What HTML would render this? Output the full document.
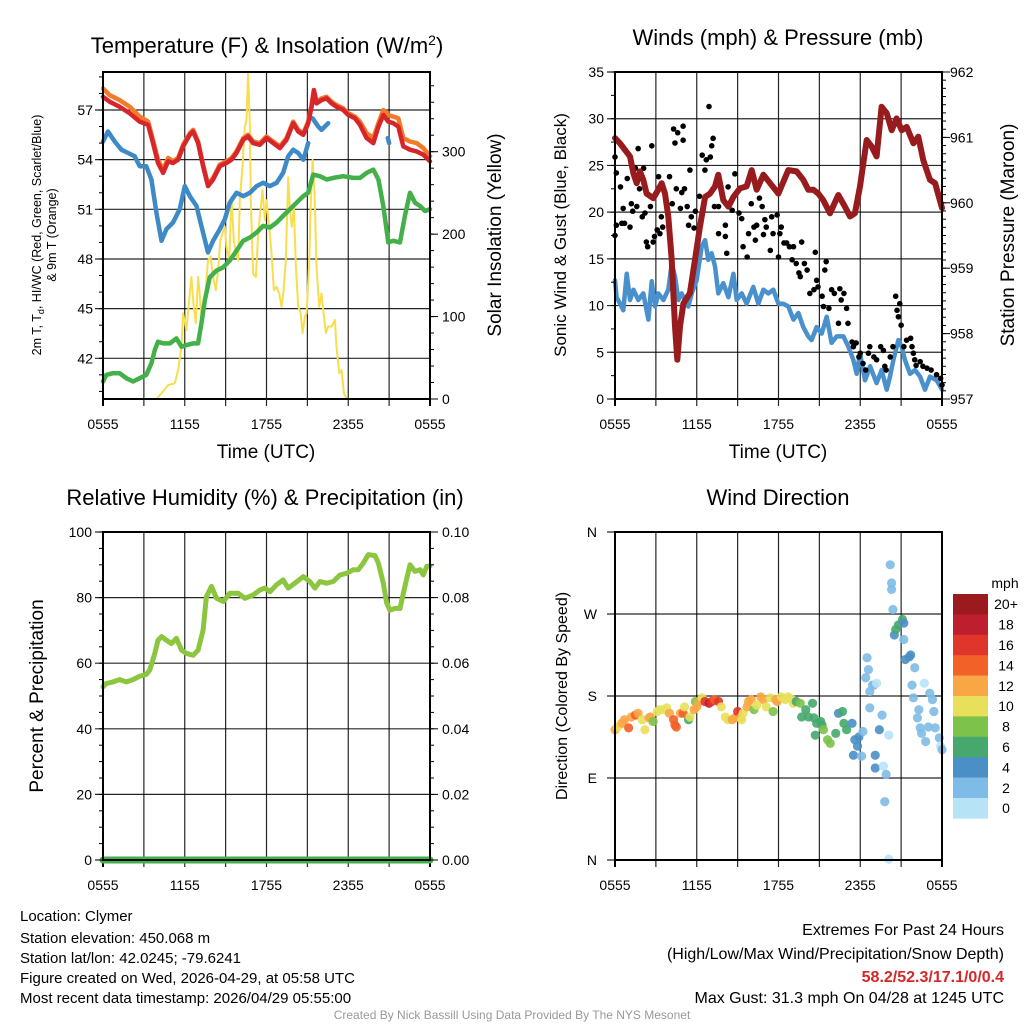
<!DOCTYPE html>
<html><head><meta charset="utf-8"><style>
html,body{margin:0;padding:0;background:#fff;}
svg{display:block;font-family:"Liberation Sans",Arial,sans-serif;}
</style></head><body>
<svg id="chart" width="1024" height="1024" viewBox="0 0 1024 1024" xmlns="http://www.w3.org/2000/svg">
<rect width="1024" height="1024" fill="#fff"/>
<text x="267" y="53" font-size="22" text-anchor="middle">Temperature (F) &amp; Insolation (W/m<tspan dy="-8" font-size="14">2</tspan><tspan dy="8">)</tspan></text>
<text x="778" y="45" font-size="22" text-anchor="middle">Winds (mph) &amp; Pressure (mb)</text>
<text x="265" y="505" font-size="22" text-anchor="middle">Relative Humidity (%) &amp; Precipitation (in)</text>
<text x="778" y="505" font-size="22" text-anchor="middle">Wind Direction</text>
<g font-size="19" text-anchor="middle">
<text x="266" y="458">Time (UTC)</text>
<text x="778" y="458">Time (UTC)</text>
</g>
<text transform="translate(41,235) rotate(-90)" font-size="12.5" text-anchor="middle">2m T, T<tspan dy="3" font-size="9">d</tspan><tspan dy="-3">, HI/WC (Red, Green, Scarlet/Blue)</tspan></text>
<text transform="translate(56,235) rotate(-90)" font-size="12.5" text-anchor="middle">&amp; 9m T (Orange)</text>
<text transform="translate(501,235) rotate(-90)" font-size="19" text-anchor="middle">Solar Insolation (Yellow)</text>
<text transform="translate(566,235) rotate(-90)" font-size="17" text-anchor="middle">Sonic Wind &amp; Gust (Blue, Black)</text>
<text transform="translate(1014,235) rotate(-90)" font-size="19" text-anchor="middle">Station Pressure (Maroon)</text>
<text transform="translate(43,696) rotate(-90)" font-size="19" text-anchor="middle">Percent &amp; Precipitation</text>
<text transform="translate(567,696) rotate(-90)" font-size="16" text-anchor="middle">Direction (Colored By Speed)</text>
<g font-size="15">
<text x="20" y="921">Location: Clymer</text>
<text x="20" y="943">Station elevation: 450.068 m</text>
<text x="20" y="963">Station lat/lon: 42.0245; -79.6241</text>
<text x="20" y="983">Figure created on Wed, 2026-04-29, at 05:58 UTC</text>
<text x="20" y="1003">Most recent data timestamp: 2026/04/29 05:55:00</text>
</g>
<g font-size="16" text-anchor="end">
<text x="1004" y="935">Extremes For Past 24 Hours</text>
<text x="1004" y="959">(High/Low/Max Wind/Precipitation/Snow Depth)</text>
<text x="1004" y="982" fill="#d62728" font-weight="bold">58.2/52.3/17.1/0/0.4</text>
<text x="1004" y="1003">Max Gust: 31.3 mph On 04/28 at 1245 UTC</text>
</g>
<text x="512" y="1019" font-size="12" fill="#999" text-anchor="middle">Created By Nick Bassill Using Data Provided By The NYS Mesonet</text>
</svg>
<script>
// ---- Temperature panel data (hours since 0555 UTC) ----
const redT=[0,0.49,1.22,1.96,2.69,3.31,3.67,4.04,4.41,4.78,5.14,5.51,5.88,6.37,6.61,6.98,7.35,7.71,8.08,8.57,9.06,9.43,9.8,10.29,10.65,11.02,11.51,12,12.49,12.98,13.47,13.96,14.33,14.7,15.06,15.31,15.48,15.67,16.04,16.41,16.78,17.14,17.63,18,18.49,18.86,19.35,19.84,20.21,20.57,20.94,21.31,21.67,22.04,22.53,23.02,23.51,24];
const redV=[57.8,57.5,57.2,56.8,56.3,56.1,55.0,53.8,53.2,53.9,53.8,54.0,54.8,55.5,55.7,55.0,53.6,52.4,52.8,53.6,53.8,54.0,54.4,55.2,55.4,55.0,54.9,55.3,55.0,54.7,55.2,56.2,55.7,55.5,56.2,57.2,58.2,57.4,57.6,57.7,57.4,57.2,57.0,56.7,56.5,56.1,55.3,55.0,56.0,56.7,56.3,56.2,56.0,54.8,54.6,54.5,54.3,53.9];
const orangeV=[58.3,57.9,57.6,57.2,56.6,56.3,55.2,54.0,53.4,54.1,53.9,54.1,54.9,55.6,55.8,55.1,53.7,52.5,52.9,53.7,53.9,54.1,54.5,55.3,55.5,55.1,55.0,55.4,55.1,54.8,55.3,56.3,55.8,55.6,56.3,57.3,58.2,57.5,57.7,57.8,57.5,57.3,57.1,56.8,56.6,56.3,55.6,55.3,56.2,57.0,56.7,56.6,56.5,55.3,55.1,55.0,54.7,54.2];
const blueT=[0,0.37,0.86,1.35,1.84,2.33,2.69,3.18,3.55,3.92,4.29,4.65,5.14,5.63,6,6.37,6.86,7.22,7.71,8.08,8.57,8.94,9.31,9.8,10.29,10.78,11.27,11.76,12.25,12.74,13.22,13.59,13.96,14.33,14.7,15.06,15.2,15.38,15.8,16.04,16.53,16.6,20.9,20.94,21.0];
const blueV=[55.1,55.7,55.1,54.6,54.4,54.2,53.6,53.6,52.8,50.8,49.1,49.8,50.2,51.0,52.4,51.8,51.2,50.0,48.4,49.1,49.8,50.4,51.4,52.0,51.8,52.0,52.4,52.6,52.4,52.6,53.2,54.2,54.6,54.4,54.0,55.0,null,56.5,56.0,55.8,56.2,null,55.3,55.2,55.0];
const greenT=[0,0.24,0.73,1.22,1.71,2.2,2.69,3.18,3.55,3.8,4.04,4.41,4.9,5.39,5.76,6.12,6.61,6.98,7.22,7.47,7.84,8.33,8.82,9.31,9.8,10.29,10.78,11.27,11.76,12.25,12.74,13.22,13.72,14.21,14.7,15.06,15.43,15.92,16.41,16.9,17.63,18.37,18.86,19.35,19.84,20.21,20.57,20.94,21.31,21.8,22.16,22.53,22.9,23.27,23.63,24];
const greenV=[40.6,41.0,41.1,41.1,40.8,40.6,40.8,41.0,41.7,42.5,43.0,42.9,42.9,43.2,42.7,42.8,42.9,42.9,44.1,45.5,46.9,47.3,47.5,47.9,48.5,49.1,49.3,49.6,50.0,49.9,50.2,50.6,51.0,51.4,51.8,52.0,53.1,53.0,52.8,52.9,53.0,52.9,52.9,53.2,53.4,52.8,51.2,49.0,49.1,49.0,50.6,52.0,51.4,51.2,50.9,51.0];
const solarT=[0,3.92,4.29,4.78,5.27,5.51,5.76,5.88,6.12,6.37,6.49,6.66,6.81,6.98,7.1,7.22,7.47,7.71,7.89,8.08,8.28,8.45,8.62,8.77,8.94,9.06,9.26,9.43,9.6,9.75,9.92,10.04,10.24,10.41,10.53,10.65,10.78,10.85,11.02,11.22,11.39,11.56,11.71,11.88,12,12.2,12.37,12.54,12.74,12.93,13.1,13.23,13.42,13.59,13.72,13.86,14.01,14.16,14.33,14.5,14.65,14.82,14.94,15.14,15.23,15.38,15.53,15.67,15.87,16.04,16.16,16.36,16.53,16.78,17.02,17.14,17.34,17.51,17.68,17.88,24];
const solarV=[0,0,7,17,19,35,63,104,84,128,148,112,92,148,128,100,120,168,173,148,132,156,193,201,209,185,168,245,193,177,168,241,282,330,338,400,330,241,152,148,201,229,253,217,241,209,177,132,136,128,112,128,168,269,229,209,233,160,112,104,80,100,104,168,229,290,249,160,112,128,108,80,88,88,96,63,31,35,7,0,0];
const tempTicks=[42,45,48,51,54,57];
const solarTicks=[0,100,200,300];
const timeTickLabels=["0555","1155","1755","2355","0555"];
// ---- Wind panel data ----
const presT=[0,0.37,0.73,1.1,1.35,1.59,1.83,2.08,2.32,2.81,3.18,3.43,3.67,3.91,4.16,4.4,4.57,4.77,5.02,5.5,5.87,6.24,6.61,6.97,7.34,7.58,7.95,8.32,8.69,9.17,9.66,10.03,10.4,10.89,11.38,11.99,12.72,13.33,13.82,14.19,14.56,14.92,15.29,15.78,16.39,16.88,17.25,17.61,17.98,18.47,18.84,19.2,19.57,19.94,20.31,20.67,21.04,21.41,21.9,22.26,22.63,23.12,23.49,24];
const presV=[960.99,960.91,960.81,960.71,960.45,960.3,960.48,960.35,960.14,960.07,960.2,960.3,960.14,959.79,959.13,958.11,957.6,958.11,958.46,958.62,959.13,959.64,960.09,960.14,960.25,960.43,960.04,959.94,960.09,960.22,960.25,960.5,960.2,960.43,960.3,960.14,960.5,960.48,960.35,960.2,960.2,960.14,960.04,959.84,960.12,959.94,959.79,959.84,960.25,960.96,960.86,960.71,961.47,961.37,961.11,961.29,961.11,961.16,960.91,961.01,960.65,960.35,960.3,959.92];
const windT=[0,0.12,0.37,0.61,0.86,1.1,1.35,1.71,2.08,2.45,2.69,2.94,3.18,3.55,3.91,4.16,4.4,4.65,4.89,5.14,5.38,5.63,5.99,6.36,6.61,6.85,7.09,7.34,7.58,7.95,8.32,8.69,8.93,9.3,9.66,10.15,10.52,10.89,11.25,11.62,11.99,12.35,12.72,13.09,13.46,13.82,14.19,14.43,14.8,15.17,15.54,15.9,16.27,16.76,17.13,17.49,17.74,17.98,18.35,18.72,19.2,19.57,19.94,20.18,20.43,20.8,21.04,21.28,21.65,22.02,22.39,22.75,23.12,23.61,24];
const windV=[12.7,10.9,10.2,9.5,13.4,10.6,11.7,10.6,11.3,8.5,12.6,9.9,11.3,10.6,11.7,14.5,13.1,10.6,11.3,10.6,9.9,11.3,12.7,16.3,17.0,14.9,15.6,14.2,11.3,12.4,10.9,13.4,10.6,11.3,10.2,12.0,10.2,11.7,11.3,11.7,10.2,10.2,9.9,8.5,9.2,7.7,6.7,6.3,7.7,7.0,8.8,6.0,6.7,6.7,5.6,4.2,2.7,4.9,2.0,3.5,1.7,3.1,1.0,2.4,4.2,6.3,5.6,4.2,2.7,3.1,2.4,1.0,2.4,2.0,1.0];
const gustT=[0,0.1,0,0.4,0.1,0.5,0.6,0.7,0.9,1.1,1.2,1.3,1.5,1.6,1.7,1.8,2.0,2.1,2.2,2.3,2.4,2.6,2.7,2.8,2.9,3.1,3.2,3.3,3.4,3.5,3.8,4.0,4.2,4.3,4.4,4.5,4.6,4.8,4.9,5.0,5.0,5.1,5.3,5.4,5.5,5.6,5.8,5.9,6.2,6.4,6.6,6.7,6.9,7.0,7.1,7.2,7.3,7.6,7.6,8.1,8.1,8.2,8.3,8.6,8.8,9.1,9.3,9.4,9.7,9.8,10.0,10.2,10.3,10.4,10.6,10.8,10.9,11.0,11.1,11.4,11.5,11.6,11.9,12.0,12.1,12.2,12.4,12.6,12.8,13.0,13.1,13.3,13.5,13.6,13.7,13.9,14.1,14.3,14.6,14.7,14.8,14.9,15.2,15.3,15.4,15.5,15.7,15.9,16.1,16.4,16.5,16.6,16.8,17.0,17.1,17.4,17.5,17.7,17.9,18.0,18.2,18.4,18.6,18.7,19.0,19.2,19.5,19.7,19.8,19.9,20.2,20.4,20.6,20.7,20.8,20.9,21.0,21.2,21.4,21.7,21.8,21.9,22.0,22.1,22.4,22.6,22.9,23.2,23.6,23.9,24.0];
const gustV=[25.9,24.2,17.5,22.7,18.6,18.8,20.4,18.8,23.6,18.4,20.9,20.1,24.7,20.6,26.8,22.5,19.5,24.7,19.9,16.8,16.3,20.6,27.1,16.8,17.4,18.1,23.8,17.7,19.5,18.4,20.8,23.8,20.9,28.9,27.4,22.5,28.5,20.4,22.1,27.7,29.2,22.5,20.6,18.6,24.5,19.5,18.3,20.1,21.7,26.1,24.5,25.6,31.3,25.9,27.1,27.9,20.6,20.6,17.7,17.4,18.6,15.6,22.7,20.2,24.1,19.9,19.3,16.3,15.2,17.7,20.9,18.4,17.0,18.6,21.5,20.6,17.6,19.2,18.4,15.9,19.5,17.7,19.7,15.2,17.7,18.4,16.7,16.7,16.3,14.9,16.3,14.5,13.5,13.1,16.8,14.5,13.8,11.3,11.7,15.7,12.7,12.0,11.0,9.9,13.8,14.7,9.7,11.7,11.3,8.1,11.8,10.6,11.3,9.7,8.1,6.1,5.6,6.0,4.5,4.9,3.8,3.1,4.9,5.6,4.5,4.2,5.6,5.2,3.5,3.1,4.5,5.6,11.0,9.5,8.8,10.2,7.9,5.6,6.3,6.5,5.6,4.9,4.2,3.6,4.0,3.5,3.3,3.1,2.6,2.2,1.5];
const windTicks=[0,5,10,15,20,25,30,35];
const presTicks=[957,958,959,960,961,962];
// ---- RH panel data ----
const rhT=[0,0.24,0.73,1.22,1.71,2.2,2.69,3.18,3.43,3.8,4.04,4.29,4.65,5.02,5.39,5.76,6.12,6.61,6.98,7.35,7.59,7.96,8.33,8.82,9.31,9.92,10.41,11.02,11.51,11.88,12.25,12.74,13.22,13.59,14.08,14.7,15.18,15.55,15.92,16.41,16.9,17.39,17.88,18.37,18.74,19.1,19.47,19.96,20.21,20.57,20.82,21.06,21.43,21.8,22.16,22.53,22.9,23.27,23.51,23.76,24];
const rhV=[52.8,53.8,54.3,55.0,54.3,55.0,56.0,56.6,57.9,63.0,67.0,68.1,67.0,66.0,67.6,64.0,63.0,62.4,64.0,70.1,80.3,83.4,79.8,78.8,81.3,81.3,79.8,80.8,82.3,82.9,81.8,83.9,85.4,82.9,84.4,86.4,84.9,82.9,84.9,84.4,84.9,86.9,87.4,88.5,88.5,90.5,93.1,92.8,90.5,84.4,78.3,76.2,76.7,76.7,83.4,90.0,88.0,88.5,86.9,89.5,89.7];
const precipT=[0,24];
const precipV=[0,0];
const rhTicks=[0,20,40,60,80,100];
const precipTicks=["0.00","0.02","0.04","0.06","0.08","0.10"];
// ---- Wind direction data ----
const dirT=[0,0.2,0.5,0.7,1.0,1.2,1.5,1.7,2.0,2.2,2.5,2.6,2.8,3.1,3.3,3.6,3.8,4.0,4.3,4.4,4.5,4.8,5.0,5.1,5.4,5.5,5.8,5.9,6.0,6.2,6.4,6.6,6.9,7.1,7.3,7.6,7.8,8.1,8.3,8.6,8.8,9.0,9.2,9.3,9.4,9.7,9.8,10.0,10.2,10.4,10.7,10.9,11.1,11.4,11.6,11.8,11.9,12.2,12.5,12.7,13.0,13.1,13.3,13.6,13.7,14.0,14.2,14.5,14.6,14.7,14.8,15.1,15.2,15.3,15.6,15.8,16.2,16.4,16.7,16.8,17.0,17.4,17.6,17.8,17.9,17.5,18.1,18.2,18.4,18.5,18.6,18.7,18.9,19.0,19.2,18.7,19.1,19.1,19.4,19.6,19.7,19.9,19.8,20.1,20.1,20.2,20.3,20.3,20.4,20.5,20.6,20.8,21.1,21.2,21.2,21.3,21.6,21.7,22.0,21.8,21.9,22.3,22.2,22.4,22.5,22.7,22.8,23.0,23.1,23.3,23.4,23.5,23.8,23.9,24.0];
const dirV=[143,146,150,154,145,157,159,161,154,143,156,157,152,163,165,165,167,161,154,148,146,161,161,168,154,157,165,174,168,174,178,174,172,174,176,174,168,157,154,154,156,163,156,154,161,168,174,176,165,170,179,176,168,178,163,176,174,179,176,179,176,172,174,172,157,165,157,172,156,137,150,152,148,143,132,128,139,161,163,150,143,150,132,125,135,115,114,141,200,222,209,185,192,192,194,167,115,101,143,159,103,94,64,137,1,324,297,304,275,247,253,258,264,260,242,220,223,225,211,192,178,165,156,145,139,194,130,146,183,176,163,145,134,125,121];
const dirSpeed=[13,11,12,12,14,13,15,12,11,10,12,13,8,10,10,10,10,12,15,15,14,13,14,10,7,11,13,8,12,12,10,16,18,16,15,16,10,10,10,12,13,16,12,10,11,12,12,13,8,10,13,12,10,11,8,12,13,10,10,10,10,11,7,8,6,7,6,6,7,6,6,6,6,8,8,8,6,5,6,6,6,4,4,4,4,4,3,3,3,3,3,3,3,3,1,3,4,4,4,3,1,3,3,1,1,3,3,3,3,4,6,6,6,5,3,4,5,4,3,3,3,3,3,3,3,1,3,3,3,3,3,3,3,1,2];
const dirTickLabels=["N","E","S","W","N"];
const speedBinLabels=["0","2","4","6","8","10","12","14","16","18","20+"];
const speedBinColors=["#b8e3f7","#7ebbe6","#4a8fc6","#46a86c","#7dc24b","#e8e05a","#f9a645","#f26127","#e0352b","#be1e2d","#9b1a1d"];

const NS="http://www.w3.org/2000/svg";
const svg=document.getElementById('chart');
function mk(tag,attrs,parent){const e=document.createElementNS(NS,tag);for(const k in attrs)e.setAttribute(k,attrs[k]);(parent||svg).appendChild(e);return e;}
function scale(d0,d1,r0,r1){return v=>r0+(v-d0)/(d1-d0)*(r1-r0);}

function panel(name,x0,x1,y0,y1){
  const g=mk('g',{});
  
  
  return {g,x0,x1,y0,y1,x:scale(0,24,x0,x1)};
}
function grid(p,yVals,ys){
  for(let h=3;h<24;h+=3){const l=mk('line',{x1:p.x(h),x2:p.x(h),y1:p.y0,y2:p.y1+7,stroke:'#000','stroke-width':1.2,'stroke-opacity':0.85},p.g);
    }
  yVals.forEach(v=>{const l=mk('line',{x1:p.x0-8,x2:p.x1,y1:ys(v),y2:ys(v),stroke:'#000','stroke-width':1.2,'stroke-opacity':0.85},p.g);
    });
  for(let h=0;h<=24;h+=6){const t=mk('text',{x:p.x(h),y:p.y1+30,'font-size':14,'text-anchor':'middle'},p.g);t.textContent=timeTickLabels[h/6];
    }
  [0,24].forEach(h=>mk('line',{x1:p.x(h),x2:p.x(h),y1:p.y1,y2:p.y1+7,stroke:'#000','stroke-width':2},p.g));
}
function frame(p){const r=mk('rect',{x:p.x0,y:p.y0,width:p.x1-p.x0,height:p.y1-p.y0,fill:'none',stroke:'#000','stroke-width':2},p.g);
  }
function line(p,ts,vs,ys,color,w,name,clip){
  let d='',pen=false;
  ts.forEach((t,i)=>{const v=vs[i];if(v===null){pen=false;return;}let yy=ys(v);if(clip)yy=Math.max(p.y0,yy);d+=(pen?'L':'M')+p.x(t).toFixed(1)+','+yy.toFixed(1);pen=true;});
  const e=mk('path',{d,fill:'none',stroke:color,'stroke-width':w,'stroke-linejoin':'round','stroke-linecap':'round'},p.g);
  return e;
}
function ticks(x,y0,y1,vals,ys,dir,len){vals.forEach(v=>mk('line',{x1:x,x2:x+dir*len,y1:ys(v),y2:ys(v),stroke:'#000','stroke-width':1}));}
function labels(p,vals,ys,x,anchor,texts,name){vals.forEach((v,i)=>{const t=mk('text',{x,y:ys(v)+5,'font-size':14,'text-anchor':anchor},p.g);t.textContent=texts?texts[i]:String(v);
  });}

// Panel 1
const p1=panel('temperature-panel',103,430,72,399);
const tY=scale(42,57,358.3,110);const sY=scale(0,300,399,151.7);
grid(p1,tempTicks,tY);
const minorT=[];for(let v=40;v<=59;v++)minorT.push(v);ticks(103,0,0,minorT,tY,-1,4);
const minorS=[];for(let v=0;v<=400;v+=20)minorS.push(v);ticks(430,0,0,minorS.filter(v=>sY(v)>=72),sY,1,4);ticks(430,0,0,solarTicks,sY,1,8);
line(p1,solarT,solarV,sY,'#f7de4e',2,'solar-insolation-line',true);
line(p1,greenT,greenV,tY,'#43b04a',4.5,'dewpoint-line');
line(p1,blueT,blueV,tY,'#3d8ac6',4.5,'heat-index-windchill-line');
line(p1,redT,orangeV,tY,'#f27b2a',4.5,'temp-9m-line');
line(p1,redT,redV,tY,'#d7262b',4.5,'temp-2m-line');
frame(p1);
labels(p1,tempTicks,tY,93,'end',null,'temp-tick-label');
labels(p1,solarTicks,sY,442,'start',null,'solar-tick-label');

// Panel 2
const p2=panel('wind-pressure-panel',615,942,72,399);
const wY=scale(0,35,399,72);const pY=scale(957,962,399,72);
grid(p2,windTicks,wY);
const minorW=[];for(let v=0;v<=35;v+=2.5)minorW.push(v);ticks(615,0,0,minorW,wY,-1,4);
const minorP=[];for(let v=957;v<=962.001;v+=0.125)minorP.push(v);ticks(942,0,0,minorP,pY,1,4);ticks(942,0,0,presTicks,pY,1,8);
line(p2,windT,windV,wY,'#4a90cc',4.5,'sonic-wind-line');
gustT.forEach((t,i)=>{const c=mk('circle',{cx:p2.x(t),cy:wY(gustV[i]),r:2.8,fill:'#000'},p2.g);
  });
line(p2,presT,presV,pY,'#981b1e',6,'pressure-line');
frame(p2);
labels(p2,windTicks,wY,604,'end',null,'wind-tick-label');
labels(p2,presTicks,pY,950,'start',null,'pressure-tick-label');

// Panel 3
const p3=panel('rh-precip-panel',103,430,532,860);
const rY=scale(0,100,860,532);const prY=scale(0,0.1,860,532);
grid(p3,rhTicks,rY);
const minorR=[];for(let v=0;v<=100;v+=5)minorR.push(v);ticks(103,0,0,minorR,rY,-1,4);
const minorPr=[];for(let v=0;v<=0.1001;v+=0.005)minorPr.push(v);ticks(430,0,0,minorPr,prY,1,4);ticks(430,0,0,[0,0.02,0.04,0.06,0.08,0.1],prY,1,8);
line(p3,rhT,rhV,rY,'#8cc63f',5,'relative-humidity-line');
line(p3,precipT,precipV,prY,'#43b04a',7,'precipitation-line');
frame(p3);
labels(p3,rhTicks,rY,92,'end',null,'rh-tick-label');
labels(p3,[0,0.02,0.04,0.06,0.08,0.1],prY,442,'start',precipTicks,'precip-tick-label');

// Panel 4
const p4=panel('wind-direction-panel',615,942,532,860);
const dY=scale(0,360,860,532);
grid(p4,[0,90,180,270,360],dY);
dirT.forEach((t,i)=>{const bin=Math.min(10,Math.floor(dirSpeed[i]/2));
  const c=mk('circle',{cx:p4.x(t),cy:dY(dirV[i]),r:4.6,fill:speedBinColors[bin],'fill-opacity':0.9},p4.g);
  });
frame(p4);
labels(p4,[0,90,180,270,360],dY,597,'end',dirTickLabels,'direction-tick-label');

// Colorbar
const cb=mk('g',{});


const mph=mk('text',{x:1005,y:588,'font-size':14,'text-anchor':'middle'},cb);mph.textContent='mph';
const bh=20.4;
speedBinLabels.forEach((lab,i)=>{const k=10-i;const y=594+i*bh;
  const r=mk('rect',{x:953,y:y,width:35,height:bh+0.3,fill:speedBinColors[k]},cb);
  
  const t=mk('text',{x:1006,y:y+bh/2+5,'font-size':14,'text-anchor':'middle'},cb);t.textContent=speedBinLabels[k];
  });
</script>
</body></html>
